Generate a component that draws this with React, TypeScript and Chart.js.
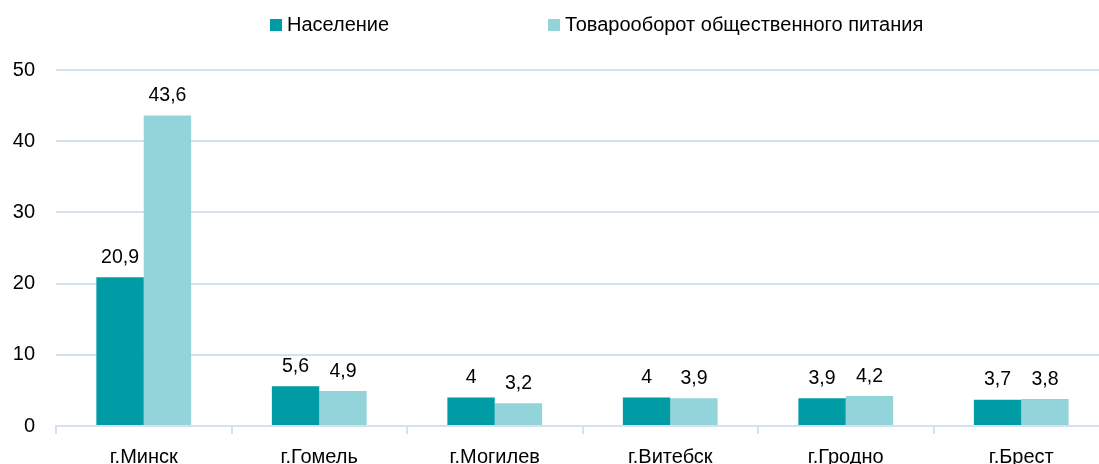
import React, { useEffect, useRef } from "react";
import { Chart, registerables } from "chart.js";

Chart.register(...registerables);

const categories = ["г.Минск", "г.Гомель", "г.Могилев", "г.Витебск", "г.Гродно", "г.Брест"];
const population = [20.9, 5.6, 4, 4, 3.9, 3.7];
const turnover = [43.6, 4.9, 3.2, 3.9, 4.2, 3.8];
const seriesNames = ["Население", "Товарооборот общественного питания"];
const colors = ["#009CA6", "#92D4D9"];

const FONT = "'Liberation Sans', Arial, sans-serif";

const fmt = (v: number) => String(v).replace(".", ",");

const labelsPlugin = {
  id: "valueLabels",
  afterDatasetsDraw(chart: any) {
    const ctx = chart.ctx;
    ctx.save();
    ctx.font = `19.5px ${FONT}`;
    ctx.fillStyle = "#000";
    ctx.textAlign = "center";
    ctx.textBaseline = "bottom";
    chart.data.datasets.forEach((ds: any, i: number) => {
      const meta = chart.getDatasetMeta(i);
      meta.data.forEach((el: any, j: number) => {
        ctx.fillText(fmt(ds.data[j]), el.x, el.y - 10);
      });
    });
    ctx.restore();
  },
};

const legendPlugin = {
  id: "customLegend",
  afterDraw(chart: any) {
    const ctx = chart.ctx;
    ctx.save();
    ctx.font = `20px ${FONT}`;
    ctx.textBaseline = "middle";
    ctx.textAlign = "left";
    const pos = [270, 548];
    chart.data.datasets.forEach((ds: any, i: number) => {
      ctx.fillStyle = ds.backgroundColor;
      ctx.fillRect(pos[i], 19, 12, 12);
      ctx.fillStyle = "#000";
      ctx.fillText(ds.label, pos[i] + 17, 25);
    });
    ctx.restore();
  },
};

export default function App() {
  const ref = useRef<HTMLCanvasElement>(null);
  useEffect(() => {
    if (!ref.current) return;
    const chart = new Chart(ref.current, {
      type: "bar",
      data: {
        labels: categories,
        datasets: [
          { label: seriesNames[0], data: population, backgroundColor: colors[0], categoryPercentage: 0.54, barPercentage: 1 },
          { label: seriesNames[1], data: turnover, backgroundColor: colors[1], categoryPercentage: 0.54, barPercentage: 1 },
        ],
      },
      options: {
        animation: false,
        responsive: false,
        maintainAspectRatio: false,
        layout: { padding: { top: 70, right: 6, left: 0, bottom: 0 } },
        plugins: { legend: { display: false }, tooltip: { enabled: false } },
        scales: {
          x: {
            grid: { display: true, drawOnChartArea: false, drawTicks: true, tickLength: 8, color: "#D5E1F1", lineWidth: 2 },
            border: { display: true, color: "#D5E1F1", width: 2 },
            ticks: { color: "#000", font: { family: FONT, size: 20 }, padding: 11, maxRotation: 0 },
            afterFit: (s: any) => { s.height = 54; },
          },
          y: {
            min: 0,
            max: 50,
            ticks: { stepSize: 10, color: "#000", font: { family: FONT, size: 20 }, padding: 21 },
            grid: { color: "#D5E1F1", lineWidth: 2, drawTicks: false },
            border: { display: false },
            afterFit: (s: any) => { s.width = 56; },
          },
        },
      },
      plugins: [labelsPlugin, legendPlugin],
    });
    return () => chart.destroy();
  }, []);
  return (
    <div style={{ position: "fixed", left: 0, top: 0, width: 1099, height: 464, overflow: "hidden", background: "#fff" }}>
      <canvas ref={ref} width={1115} height={480} style={{ width: 1115, height: 480, display: "block" }} />
    </div>
  );
}
